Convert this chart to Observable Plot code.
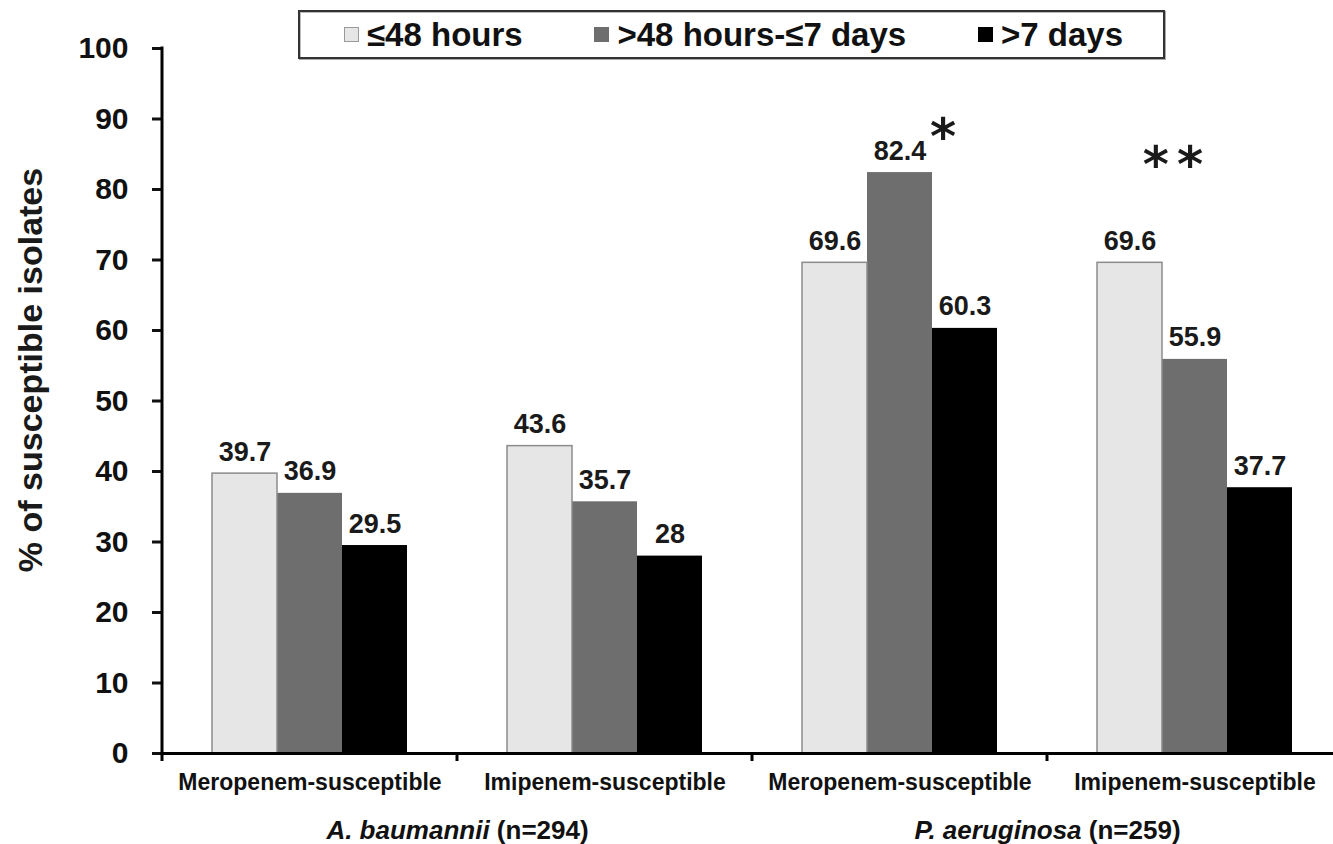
<!DOCTYPE html>
<html>
<head>
<meta charset="utf-8">
<script src="https://cdn.jsdelivr.net/npm/d3@7"></script>
<script src="https://cdn.jsdelivr.net/npm/@observablehq/plot@0.6"></script>
<style>
  body { margin: 0; background: #fff; font-family: "Liberation Sans", Arial, sans-serif; }
  #wrap { position: relative; width: 1333px; height: 844px; overflow: hidden; background: #fff; }
  #wrap svg { position: absolute; left: 0; top: 0; }
  #legend {
    position: absolute; left: 298px; top: 10px; width: 867px; height: 49px;
    box-sizing: border-box; border: 2px solid #333;
    box-shadow: 1px 1px 0 #aaa, inset 1px 1px 0 #bbb;
    background: #fff; z-index: 2;
    display: flex; align-items: center; justify-content: space-between;
    padding: 0 40px 0 44px;
    font-weight: bold; font-size: 33px; color: #111; line-height: 1;
  }
  .item { display: flex; align-items: center; gap: 8px; white-space: nowrap; }
  .sw { width: 15px; height: 15px; box-sizing: border-box; }
</style>
</head>
<body>
<div id="wrap"><div id="legend"></div></div>
<script>
// ---- data ----
const seriesNames = ["≤48 hours", ">48 hours-≤7 days", ">7 days"];
const seriesColors = ["#e6e6e6", "#6e6e6e", "#000000"];
const organisms = ["A. baumannii", "P. aeruginosa"];
const organismCounts = ["(n=294)", "(n=259)"];
const antibiotics = ["Meropenem-susceptible", "Imipenem-susceptible"];
const aBaumanniiMeropenem = [39.7, 36.9, 29.5];
const aBaumanniiImipenem = [43.6, 35.7, 28];
const pAeruginosaMeropenem = [69.6, 82.4, 60.3];
const pAeruginosaImipenem = [69.6, 55.9, 37.7];
const yTicks = [0, 10, 20, 30, 40, 50, 60, 70, 80, 90, 100];
const yTitle = "% of susceptible isolates";
const annotationText = ["*", "**"];
const annotationOrganism = ["P. aeruginosa", "P. aeruginosa"];
const annotationAntibiotic = ["Meropenem-susceptible", "Imipenem-susceptible"];
const annotationSeries = [">7 days", ">48 hours-≤7 days"];
const annotationY = [89, 85];

// ---- tables ----
const key = (o, a) => `${o}|${a}`;
const valuesByGroup = [
  [organisms[0], antibiotics[0], aBaumanniiMeropenem],
  [organisms[0], antibiotics[1], aBaumanniiImipenem],
  [organisms[1], antibiotics[0], pAeruginosaMeropenem],
  [organisms[1], antibiotics[1], pAeruginosaImipenem]
];
const groupKeys = valuesByGroup.map(([o, a]) => key(o, a));
const data = valuesByGroup.flatMap(([o, a, vals]) =>
  vals.map((v, i) => ({group: key(o, a), series: seriesNames[i], value: v})));
const organismLabels = organisms.map((o, i) => ({group: key(o, antibiotics[1]), text: `${o} ${organismCounts[i]}`}));
const annotations = annotationText.map((t, i) => ({
  group: key(annotationOrganism[i], annotationAntibiotic[i]),
  series: annotationSeries[i], y: annotationY[i], text: t
}));

const font = "'Liberation Sans', Arial, sans-serif";

const chart = Plot.plot({
  width: 1333, height: 844,
  marginLeft: 162, marginRight: -9, marginTop: 48, marginBottom: 91,
  style: {fontFamily: font, fontWeight: "bold", background: "transparent", color: "#111"},
  fx: {domain: groupKeys, padding: 0, label: null},
  x: {domain: seriesNames, paddingInner: 0, paddingOuter: 0.75, axis: null},
  y: {domain: [0, 100], label: null},
  color: {domain: seriesNames, range: seriesColors},
  marks: [
    Plot.barY(data, {fx: "group", x: "series", y: "value", fill: "series"}),
    Plot.barY(data.filter(d => d.series === seriesNames[0]), {
      fx: "group", x: "series", y: "value", fill: "none", stroke: "#8c8c8c", strokeWidth: 1.5
    }),
    Plot.ruleY([0], {stroke: "#000", strokeWidth: 3}),
    Plot.text(data, {
      fx: "group", x: "series", y: "value", text: d => String(d.value),
      lineAnchor: "bottom", dy: -13, fontSize: 27, fontWeight: "bold", fill: "#1a1a1a"
    }),
    Plot.text(annotations, {
      fx: "group", x: "series", y: "y", text: "text", dx: -22, dy: 12,
      lineAnchor: "middle", fontSize: 50, fontFamily: "DejaVu Sans", fontWeight: "bold",
      fill: "#1a1a1a"
    }),
    Plot.axisY({
      ticks: yTicks, tickSize: 10, tickPadding: 24, fontSize: 30, fontWeight: "bold",
      strokeWidth: 3, label: null, anchor: "left"
    }),
    Plot.axisFx({
      anchor: "bottom", tickSize: 0, tickPadding: 20, fontSize: 23, fontWeight: "bold",
      label: null, tickFormat: k => k.split("|")[1]
    }),
    Plot.text(organismLabels, {
      fx: "group", text: "text", frameAnchor: "bottom-left", textAnchor: "middle",
      lineAnchor: "bottom", dy: 85, fontSize: 26, fontWeight: "bold"
    }),
    Plot.text([yTitle], {
      fx: () => groupKeys[0], text: d => d, frameAnchor: "left", textAnchor: "middle", rotate: -90,
      dx: -131, dy: -31, fontSize: 34, fontWeight: "bold", fill: "#1a1a1a"
    })
  ]
});

// axis line and group boundary ticks, from the Plot scales
const ys = chart.scale("y");
const fxs = chart.scale("fx");
const fxFn = fxs.apply ? (k => fxs.apply(k)) : d3.scaleBand(fxs.domain, fxs.range).padding(0);
const yFn = ys.apply ? (v => ys.apply(v)) : d3.scaleLinear(ys.domain, ys.range);
const y0 = yFn(0), yTop = yFn(100);
const lines = d3.select(chart).append("g").attr("stroke", "#000").attr("stroke-width", 3);
const left = fxFn(groupKeys[0]);
lines.append("line").attr("x1", left).attr("x2", left).attr("y1", y0 + 1.5).attr("y2", yTop - 1.5);
groupKeys.forEach(k => {
  const x = fxFn(k);
  lines.append("line").attr("x1", x).attr("x2", x).attr("y1", y0).attr("y2", y0 + 8);
});

// italic species name, wider spacing for the double asterisk
const organismTexts = new Set(organismLabels.map(d => d.text));
d3.select(chart).selectAll("text").each(function () {
  const t = this.textContent;
  if (organismTexts.has(t)) {
    const i = t.indexOf(" (");
    this.textContent = "";
    d3.select(this).append("tspan").attr("font-style", "italic").text(t.slice(0, i));
    d3.select(this).append("tspan").text(t.slice(i));
  } else if (t === "**") {
    d3.select(this).attr("letter-spacing", "8px").attr("dx", 4);
  }
});

document.getElementById("wrap").prepend(chart);

// legend
const legend = d3.select("#legend");
seriesNames.forEach((s, i) => {
  const it = legend.append("div").attr("class", "item");
  it.append("div").attr("class", "sw")
    .style("background", seriesColors[i])
    .style("border", i === 0 ? "1.5px solid #999" : "none");
  it.append("span").text(s);
});
</script>
</body>
</html>
